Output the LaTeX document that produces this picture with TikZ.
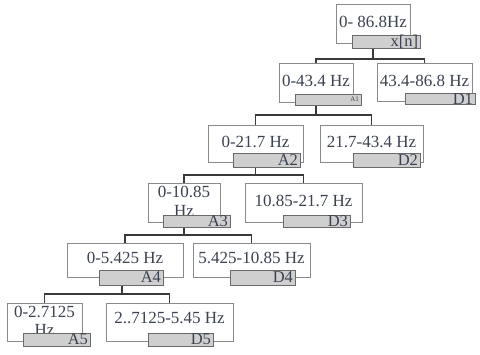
\documentclass[tikz,border=0pt]{standalone}
\usepackage{fontspec}
\setmainfont{Liberation Serif}
\usetikzlibrary{backgrounds}
\definecolor{boxc}{HTML}{8A8A8A}
\definecolor{barc}{HTML}{6A6A6A}
\definecolor{barfill}{HTML}{CFCFCF}
\definecolor{connc}{HTML}{3A3A3A}
\definecolor{txt}{HTML}{3B4250}
\begin{document}
\begin{tikzpicture}[x=1pt,y=-1pt,
  box/.style={draw=boxc, fill=white, line width=0.8pt, inner sep=0pt},
  bar/.style={draw=barc, fill=barfill, line width=0.8pt, inner ysep=0pt, inner xsep=2pt,
    font=\fontsize{16.5}{16.5}\selectfont, text=txt, align=right},
  lbl/.style={font=\fontsize{17}{18.5}\selectfont, text=txt, align=center, inner sep=0pt},
  conn/.style={draw=connc, line width=1.5pt}]
\useasboundingbox (0,0) rectangle (480,354);

% boxes
\node[box, minimum width=74pt, minimum height=39pt] (top) at (373,23.5) {};
\node[box, minimum width=74pt, minimum height=39pt] (a1) at (316,82.5) {};
\node[box, minimum width=95pt, minimum height=38pt] (d1) at (424.5,82) {};
\node[box, minimum width=95pt, minimum height=37pt] (a2) at (255.5,143.5) {};
\node[box, minimum width=103pt, minimum height=37pt] (d2) at (371.5,143.5) {};
\node[box, minimum width=72pt, minimum height=39pt] (a3) at (184,202.5) {};
\node[box, minimum width=117pt, minimum height=39pt] (d3) at (303.5,202.5) {};
\node[box, minimum width=116pt, minimum height=34pt] (a4) at (125,260) {};
\node[box, minimum width=117pt, minimum height=34pt] (d4) at (251.5,260) {};
\node[box, minimum width=75pt, minimum height=38pt] (a5) at (44.5,322) {};
\node[box, minimum width=127pt, minimum height=38pt] (d5) at (169.5,322) {};

% texts
\node[lbl] (ttop) at (373,21.5) {0- 86.8Hz};
\node[lbl] (ta1) at (316,81) {0-43.4 Hz};
\node[lbl] (td1) at (424.5,81) {43.4-86.8 Hz};
\node[lbl] (ta2) at (255.5,142) {0-21.7 Hz};
\node[lbl] (td2) at (371.5,142) {21.7-43.4 Hz};
\node[lbl] (ta3) at (184,201.5) {0-10.85\\Hz};
\node[lbl] (td3) at (303.5,200.5) {10.85-21.7 Hz};
\node[lbl] (ta4) at (125,258) {0-5.425 Hz};
\node[lbl] (td4) at (251.5,258) {5.425-10.85 Hz};
\node[lbl] (ta5) at (44.5,321) {0-2.7125\\Hz};
\node[lbl] (td5) at (169.5,318) {2..7125-5.45 Hz};

% bars
\node[bar, text width=64pt, minimum height=10pt] (btop) at (386,42) {x[n]};
\node[bar, text width=62pt, minimum height=11pt, font=\fontsize{7}{7}\selectfont] (ba1) at (328,99.5) {A1};
\node[bar, text width=66pt, minimum height=10pt] (bd1) at (440,99) {D1};
\node[bar, text width=63pt, minimum height=14pt] (ba2) at (266.5,160) {A2};
\node[bar, text width=63pt, minimum height=14pt] (bd2) at (386.5,160) {D2};
\node[bar, text width=63pt, minimum height=12pt] (ba3) at (196.5,221) {A3};
\node[bar, text width=63pt, minimum height=12pt] (bd3) at (316.5,221) {D3};
\node[bar, text width=60pt, minimum height=15pt] (ba4) at (131,277.5) {A4};
\node[bar, text width=61pt, minimum height=15pt] (bd4) at (262.5,277.5) {D4};
\node[bar, text width=63pt, minimum height=13pt] (ba5) at (56.5,339.5) {A5};
\node[bar, text width=61pt, minimum height=13pt] (bd5) at (180.5,339.5) {D5};

% junctions
\coordinate (j1) at (373,59);
\coordinate (j2) at (316,115);
\coordinate (j3) at (255.5,175);
\coordinate (j4) at (184,235);
\coordinate (j5) at (122,294);

\begin{scope}[on background layer]
\draw[conn] (top.south) -- (j1) -| (a1.north);
\draw[conn] (j1) -| (d1.north);
\draw[conn] (a1.south) -- (j2) -| (a2.north);
\draw[conn] (j2) -| (d2.north);
\draw[conn] (a2.south) -- (j3) -| (a3.north);
\draw[conn] (j3) -| (d3.north);
\draw[conn] (a3.south) -- (j4) -| (a4.north);
\draw[conn] (j4) -| (d4.north);
\draw[conn] (ba4.south -| j5) -- (j5) -| (a5.north);
\draw[conn] (j5) -| (d5.north);
\end{scope}
\end{tikzpicture}
\end{document}
